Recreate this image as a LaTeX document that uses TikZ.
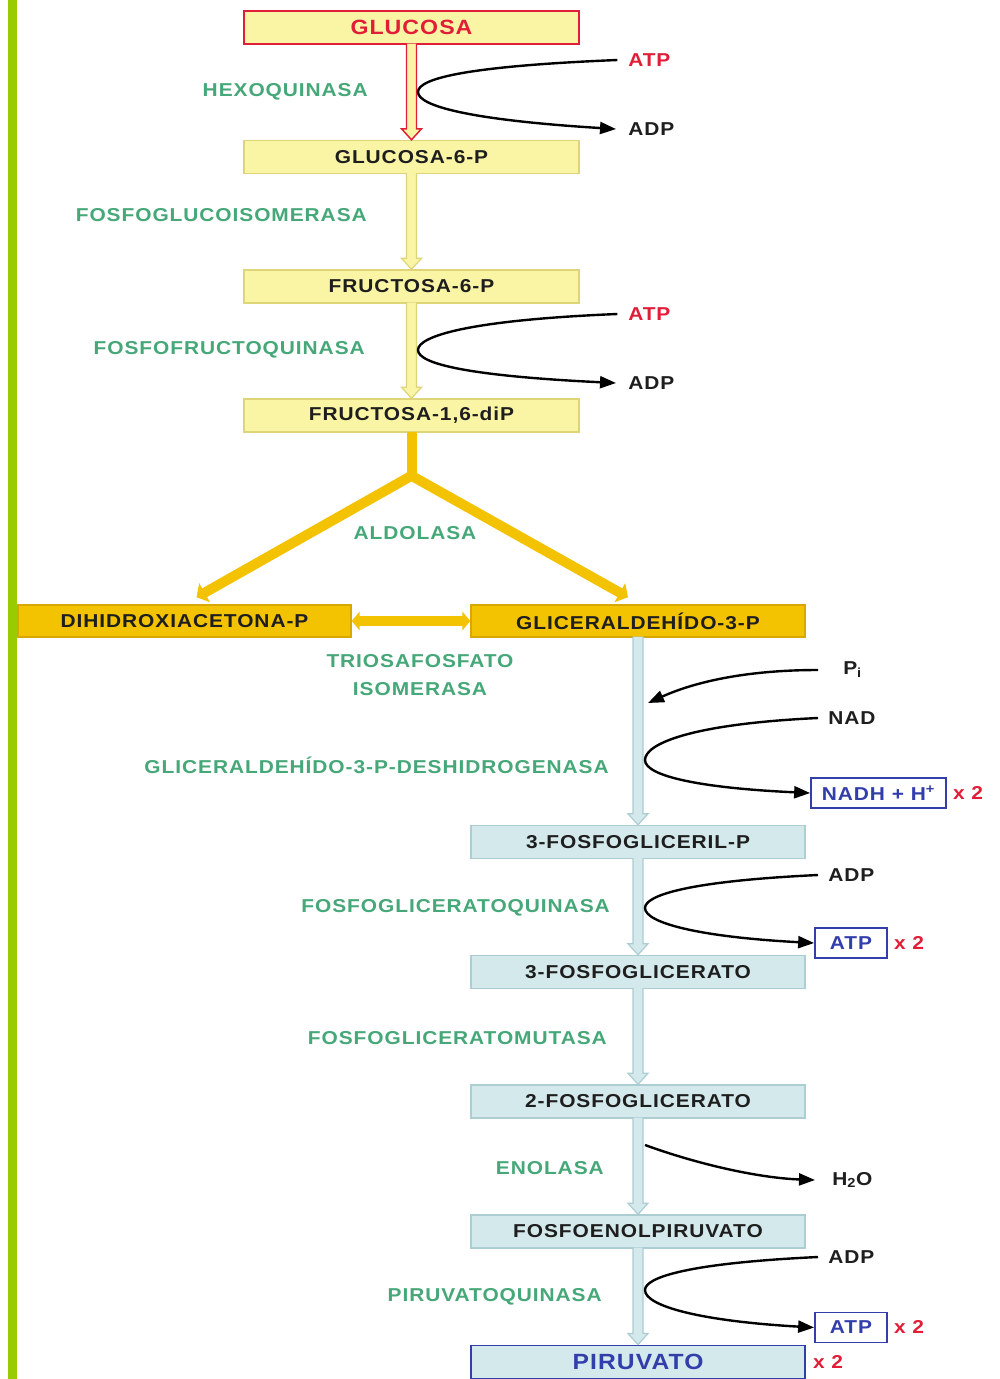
\documentclass[tikz,border=0pt]{standalone}
\usepackage{fontspec}
\setmainfont{Liberation Sans}[FakeStretch=1.12,LetterSpace=5]
\usetikzlibrary{arrows.meta,calc}
\definecolor{barg}{RGB}{153,204,0}
\definecolor{yfill}{RGB}{250,245,165}
\definecolor{ybord}{RGB}{222,212,120}
\definecolor{gold}{RGB}{243,194,0}
\definecolor{gbord}{RGB}{215,168,0}
\definecolor{bfill}{RGB}{212,233,236}
\definecolor{bbord}{RGB}{172,205,210}
\definecolor{bdark}{RGB}{50,62,170}
\definecolor{red0}{RGB}{225,30,55}
\definecolor{enzg}{RGB}{70,168,120}
\definecolor{txt}{RGB}{30,30,30}
\newcommand\hollowarrow[3]{\draw[#1] ($(#2.south)+(-5,-1)$) -- ($(#3.north)+(-5,-11)$) -- ($(#3.north)+(-10,-11)$) -- (#3.north) -- ($(#3.north)+(10,-11)$) -- ($(#3.north)+(5,-11)$) -- ($(#2.south)+(5,-1)$);}
\begin{document}
\begin{tikzpicture}[x=0.75pt,y=-0.75pt,
  every node/.style={font=\bfseries\fontsize{14}{16}\selectfont, inner sep=0pt},
  ybox/.style={draw=ybord, fill=yfill, line width=1.1pt, minimum width=251.25pt, minimum height=24.75pt, text=txt},
  gbox/.style={draw=gbord, fill=gold, line width=1.1pt, minimum height=24pt, text=txt},
  bbox/.style={draw=bbord, fill=bfill, line width=1.1pt, minimum width=250.5pt, minimum height=24.75pt, text=txt},
  enz/.style={text=enzg, anchor=east},
  side/.style={text=txt, anchor=west},
  prod/.style={draw=bdark, line width=1.3pt, fill=white, text=bdark, minimum height=22.5pt},
  rxn/.style={-{Triangle[length=12pt,width=9pt]}, line width=1.8pt, black},
  mult/.style={text=red0},
  yarrow/.style={draw=ybord, fill=yfill, line width=0.9pt},
  barrow/.style={draw=bbord, fill=bfill, line width=0.9pt},
  thick gold/.style={draw=gold, line width=7.5pt},
]
\useasboundingbox (0,0) rectangle (1000,1379);
\fill[white] (0,0) rectangle (1000,1379);
\fill[barg] (8,0) rectangle (17,1379);

% yellow boxes
\node[ybox, draw=red0, line width=1.5pt, text=red0, font=\bfseries\fontsize{15.5}{17}\selectfont] (glc) at (411.5,27) {GLUCOSA};
\node[ybox] (g6p) at (411.5,157) {GLUCOSA-6-P};
\node[ybox] (f6p) at (411.5,286.5) {FRUCTOSA-6-P};
\node[ybox] (f16) at (411.5,415.5) {FRUCTOSA-1,6-diP};

% gold boxes
\node[gbox, minimum width=249.75pt] (dhap) at (184.5,621) {DIHIDROXIACETONA-P};
\node[gbox, minimum width=250.5pt] (gap) at (638,621) {GLICERALDEHÍDO-3-P};

% blue boxes
\node[bbox] (pgp) at (638,842) {3-FOSFOGLICERIL-P};
\node[bbox] (pg3) at (638,972) {3-FOSFOGLICERATO};
\node[bbox] (pg2) at (638,1101.5) {2-FOSFOGLICERATO};
\node[bbox] (pep) at (638,1231.5) {FOSFOENOLPIRUVATO};
\node[bbox, draw=bdark, line width=1.4pt, text=bdark, font=\bfseries\fontsize{16.5}{18}\selectfont] (pyr) at (638,1362) {PIRUVATO};

% hollow arrows
\hollowarrow{draw=red0, fill=yfill, line width=1.1pt}{glc}{g6p}
\hollowarrow{yarrow}{g6p}{f6p}
\hollowarrow{yarrow}{f6p}{f16}
\hollowarrow{barrow}{gap}{pgp}
\hollowarrow{barrow}{pgp}{pg3}
\hollowarrow{barrow}{pg3}{pg2}
\hollowarrow{barrow}{pg2}{pep}
\hollowarrow{barrow}{pep}{pyr}

% aldolase fork
\coordinate (fork) at ($(f16.south)+(0,43)$);
\coordinate (lend) at ($(dhap.north)+(12,-7)$);
\coordinate (rend) at ($(gap.north)+(-10,-7)$);
\draw[thick gold] ($(f16.south)+(0,-1)$) -- (fork);
\draw[thick gold, line join=miter, {Triangle[length=7pt,width=16pt]}-{Triangle[length=7pt,width=16pt]}] (lend) -- (fork) -- (rend);
\draw[thick gold, {Triangle[length=6pt,width=14pt]}-{Triangle[length=6pt,width=14pt]}] (dhap.east) -- (gap.west);

% enzymes
\node[enz] (hk) at (368,92) {HEXOQUINASA};
\node[enz] (pgi) at (367,215) {FOSFOGLUCOISOMERASA};
\node[enz] (pfk) at (365,350) {FOSFOFRUCTOQUINASA};
\node[text=enzg] (ald) at (415,533) {ALDOLASA};
\node[text=enzg, align=center, font=\bfseries\fontsize{14}{21}\selectfont] (tpi) at (420,675) {TRIOSAFOSFATO\\ISOMERASA};
\node[enz] (gapdh) at (609,765) {GLICERALDEHÍDO-3-P-DESHIDROGENASA};
\node[enz] (pgk) at (610,908) {FOSFOGLICERATOQUINASA};
\node[enz] (pgm) at (607,1038) {FOSFOGLICERATOMUTASA};
\node[enz] (eno) at (604,1168) {ENOLASA};
\node[enz] (pk) at (602,1297) {PIRUVATOQUINASA};

% side metabolites
\node[side, text=red0] (atp1) at (628,60) {ATP};
\node[side] (adp1) at (628,129) {ADP};
\node[side, text=red0] (atp2) at (628,314) {ATP};
\node[side] (adp2) at (628,383) {ADP};
\node[side] (pi) at (843,670) {P\textsubscript{i}};
\node[side] (nad) at (828,718) {NAD};
\node[prod, minimum width=101.25pt] (nadh) at (878.5,793) {NADH + H\textsuperscript{+}};
\node[mult] (m1) at (968,793) {x 2};
\node[side] (adp3) at (828,875) {ADP};
\node[prod, minimum width=54pt] (atpb1) at (851,943) {ATP};
\node[mult] (m2) at (909,943) {x 2};
\node[side] (h2o) at (832,1180) {H\textsubscript{2}O};
\node[side] (adp4) at (828,1257) {ADP};
\node[prod, minimum width=54pt] (atpb2) at (851,1327.5) {ATP};
\node[mult] (m3) at (909,1327) {x 2};
\node[mult] (m4) at (828,1362) {x 2};

% reaction curves
\draw[rxn] ([xshift=-8pt]atp1.west) .. controls (470,66) and (418,78) .. (418,92) .. controls (418,106) and (470,120) .. ([xshift=-9pt]adp1.west);
\draw[rxn] ([xshift=-8pt]atp2.west) .. controls (470,320) and (418,336) .. (418,350) .. controls (418,364) and (470,376) .. ([xshift=-9pt]adp2.west);
\coordinate (pitip) at (648,703);
\draw[rxn] ([xshift=-18.75pt]pi.west) .. controls (740,670) and (690,684) .. (pitip);
\draw[rxn] ([xshift=-7.5pt]nad.west) .. controls (690,724) and (645,744) .. (645,760) .. controls (645,776) and (700,788) .. (nadh.west);
\draw[rxn] ([xshift=-7.5pt]adp3.west) .. controls (690,881) and (645,895) .. (645,908) .. controls (645,923) and (700,937) .. (atpb1.west);
\coordinate (enos) at (645,1145);
\draw[rxn] (enos) .. controls (700,1165) and (760,1178) .. ([xshift=-12.75pt]h2o.west);
\draw[rxn] ([xshift=-7.5pt]adp4.west) .. controls (690,1263) and (645,1277) .. (645,1290) .. controls (645,1306) and (700,1321) .. (atpb2.west);
\end{tikzpicture}
\end{document}
